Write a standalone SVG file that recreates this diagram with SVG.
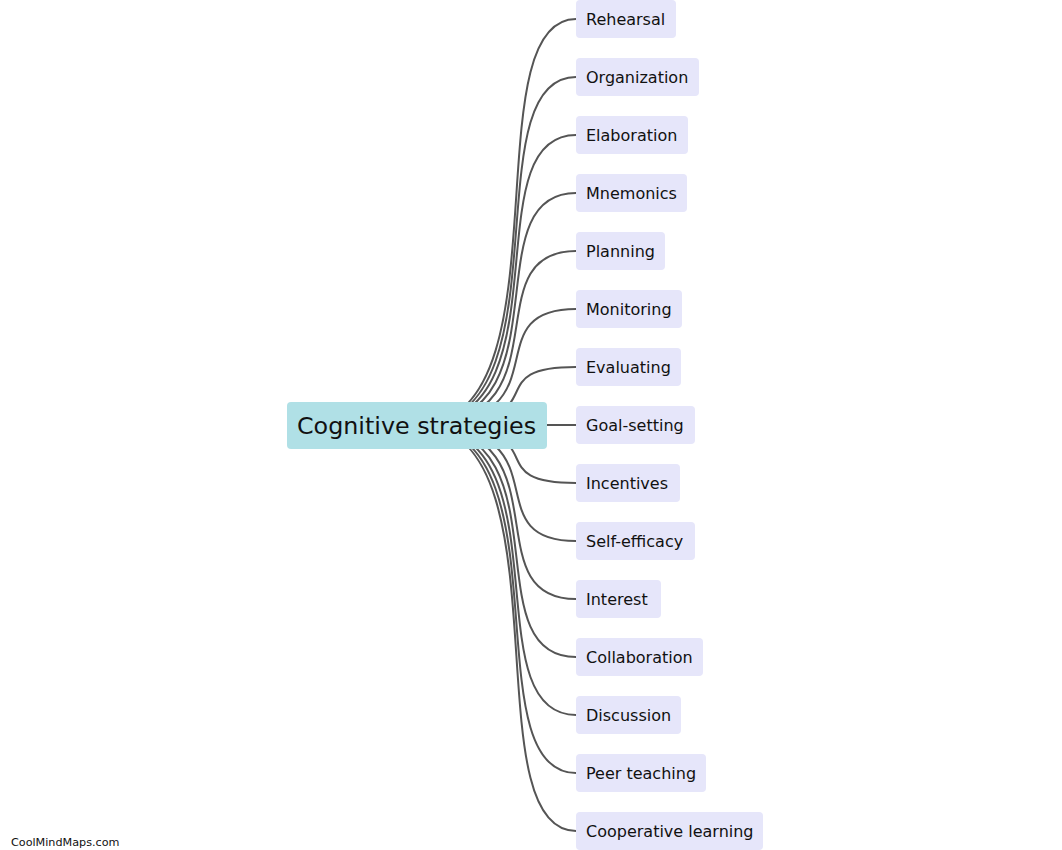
<svg xmlns="http://www.w3.org/2000/svg" width="1062" height="850" viewBox="0 0 1062 850">
<style>
.c{fill:none;stroke:#555;stroke-width:2}
.n rect{fill:#e6e6fa}
.n text{font-family:"DejaVu Sans",Verdana,sans-serif;font-size:16px;fill:#111;dominant-baseline:central}
#root rect{fill:#b0e0e6}
#root text{font-family:"DejaVu Sans",Verdana,sans-serif;font-size:23.8px;fill:#111;dominant-baseline:central}
.wm{font-family:"DejaVu Sans",Verdana,sans-serif;font-size:11.2px;fill:#111}
</style>
<rect width="1062" height="850" fill="#fff"/>
<g id="connectors">
<path class="c" d="M417 425 C571 425 470 19 576 19"/>
<path class="c" d="M417 425 C571 425 470 77 576 77"/>
<path class="c" d="M417 425 C571 425 470 135 576 135"/>
<path class="c" d="M417 425 C571 425 470 193 576 193"/>
<path class="c" d="M417 425 C571 425 470 251 576 251"/>
<path class="c" d="M417 425 C571 425 470 309 576 309"/>
<path class="c" d="M417 425 C571 425 470 367 576 367"/>
<path class="c" d="M417 425 L576 425"/>
<path class="c" d="M417 425 C571 425 470 483 576 483"/>
<path class="c" d="M417 425 C571 425 470 541 576 541"/>
<path class="c" d="M417 425 C571 425 470 599 576 599"/>
<path class="c" d="M417 425 C571 425 470 657 576 657"/>
<path class="c" d="M417 425 C571 425 470 715 576 715"/>
<path class="c" d="M417 425 C571 425 470 773 576 773"/>
<path class="c" d="M417 425 C571 425 470 831 576 831"/>
</g>
<g id="root"><rect x="287" y="402" width="260" height="47" rx="4"/><text x="297" y="425.5">Cognitive strategies</text></g>
<g id="n1" class="n"><rect x="576" y="0" width="100" height="38" rx="4"/><text x="586" y="19">Rehearsal</text></g>
<g id="n2" class="n"><rect x="576" y="58" width="123" height="38" rx="4"/><text x="586" y="77">Organization</text></g>
<g id="n3" class="n"><rect x="576" y="116" width="112" height="38" rx="4"/><text x="586" y="135">Elaboration</text></g>
<g id="n4" class="n"><rect x="576" y="174" width="111" height="38" rx="4"/><text x="586" y="193">Mnemonics</text></g>
<g id="n5" class="n"><rect x="576" y="232" width="89" height="38" rx="4"/><text x="586" y="251">Planning</text></g>
<g id="n6" class="n"><rect x="576" y="290" width="106" height="38" rx="4"/><text x="586" y="309">Monitoring</text></g>
<g id="n7" class="n"><rect x="576" y="348" width="105" height="38" rx="4"/><text x="586" y="367">Evaluating</text></g>
<g id="n8" class="n"><rect x="576" y="406" width="119" height="38" rx="4"/><text x="586" y="425">Goal-setting</text></g>
<g id="n9" class="n"><rect x="576" y="464" width="104" height="38" rx="4"/><text x="586" y="483">Incentives</text></g>
<g id="n10" class="n"><rect x="576" y="522" width="119" height="38" rx="4"/><text x="586" y="541">Self-efficacy</text></g>
<g id="n11" class="n"><rect x="576" y="580" width="85" height="38" rx="4"/><text x="586" y="599">Interest</text></g>
<g id="n12" class="n"><rect x="576" y="638" width="127" height="38" rx="4"/><text x="586" y="657">Collaboration</text></g>
<g id="n13" class="n"><rect x="576" y="696" width="105" height="38" rx="4"/><text x="586" y="715">Discussion</text></g>
<g id="n14" class="n"><rect x="576" y="754" width="130" height="38" rx="4"/><text x="586" y="773">Peer teaching</text></g>
<g id="n15" class="n"><rect x="576" y="812" width="187" height="38" rx="4"/><text x="586" y="831">Cooperative learning</text></g>
<text class="wm" x="11" y="846">CoolMindMaps.com</text>
</svg>
